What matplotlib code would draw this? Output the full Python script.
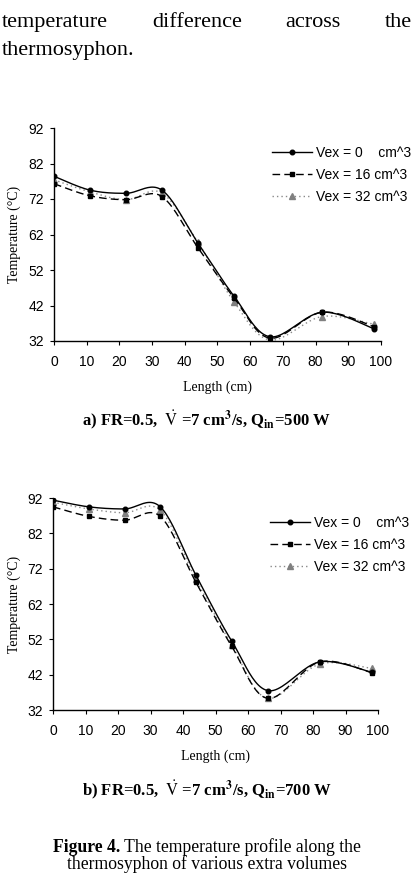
import numpy as np
import matplotlib
matplotlib.use("Agg")
import matplotlib.pyplot as plt

plt.rcParams['font.family'] = ['Liberation Sans', 'DejaVu Sans']
plt.rcParams['mathtext.fontset'] = 'stix'

# positions along the thermosyphon (cm)
length = [0, 11, 22, 33, 44, 55, 66, 82, 98]

# a) Qin = 500 W
temp_a_0 = [78.4, 74.5, 73.6, 74.5, 59.6, 44.7, 33.2, 40.1, 35.4]
temp_a_16 = [76.3, 72.9, 71.8, 72.7, 58.3, 44.2, 32.8, 40.1, 36.0]
temp_a_32 = [77.4, 74.0, 71.8, 73.7, 59.8, 43.1, 32.3, 38.9, 36.7]

# b) Qin = 700 W
temp_b_0 = [91.4, 89.5, 88.9, 89.5, 70.1, 51.5, 37.5, 45.6, 42.7]
temp_b_16 = [89.5, 86.8, 85.7, 86.8, 68.1, 50.0, 35.3, 45.6, 42.6]
temp_b_32 = [90.8, 88.9, 87.8, 88.5, 69.0, 50.4, 35.3, 45.0, 43.8]

labels = ['Vex = 0    cm^3', 'Vex = 16 cm^3', 'Vex = 32 cm^3']
x_ticks = [0, 10, 20, 30, 40, 50, 60, 70, 80, 90, 100]
y_ticks = [32, 42, 52, 62, 72, 82, 92]

W, H = 414, 874
SERIF = 'Liberation Serif'


def fx(px):
    return px / W


def fy(py):
    return 1 - py / H


def smooth(x, y, n=24):
    # excel style smoothed line (bezier through the points)
    p = np.column_stack([x, y]).astype(float)
    out = [p[:1]]
    t = np.linspace(0, 1, n)[1:, None]
    for i in range(len(p) - 1):
        p0 = p[max(i - 1, 0)]
        p1 = p[i]
        p2 = p[i + 1]
        p3 = p[min(i + 2, len(p) - 1)]
        c1 = p1 + (p2 - p0) / 6
        c2 = p2 - (p3 - p1) / 6
        seg = ((1 - t) ** 3) * p1 + 3 * ((1 - t) ** 2) * t * c1 + 3 * (1 - t) * t ** 2 * c2 + t ** 3 * p2
        out.append(seg)
    out = np.vstack(out)
    return out[:, 0], out[:, 1]


styles = [
    dict(color='black', ls='-', marker='o', ms=3.3, mfc='black', mec='black'),
    dict(color='black', ls=(0, (5.5, 3)), marker='s', ms=3.3, mfc='black', mec='black'),
    dict(color='#8a8a8a', ls=(0, (1, 2.2)), marker='^', ms=4.2, mfc='#808080', mec='#808080'),
]


def draw_chart(ax, series):
    for vals, st, lab in reversed(list(zip(series, styles, labels))):
        sx, sy = smooth(length, vals)
        ax.plot(sx, sy, color=st['color'], ls=st['ls'], lw=1.0)
        ax.plot(length, vals, ls='none', marker=st['marker'], ms=st['ms'],
                mfc=st['mfc'], mec=st['mec'])
    handles = []
    for st, lab in zip(styles, labels):
        h, = ax.plot([], [], color=st['color'], ls=st['ls'], lw=1.0,
                     marker=st['marker'], ms=st['ms'], mfc=st['mfc'], mec=st['mec'], label=lab)
        handles.append(h)
    ax.legend(handles=handles, loc='upper left', bbox_to_anchor=(0.668, 0.917),
              frameon=False, borderpad=0, borderaxespad=0, handlelength=2.85,
              handletextpad=0.3, labelspacing=0.6, fontsize=10)
    ax.set_xlim(0, 100)
    ax.set_ylim(32, 92)
    ax.set_xticks(x_ticks)
    ax.set_yticks(y_ticks)
    ax.spines['top'].set_visible(False)
    ax.spines['right'].set_visible(False)
    ax.spines['left'].set_linewidth(1.0)
    ax.spines['bottom'].set_linewidth(1.0)
    ax.tick_params(axis='both', direction='out', length=3, width=0.8, labelsize=10)
    ax.tick_params(axis='x', pad=7)
    ax.tick_params(axis='y', pad=4)
    ax.patch.set_alpha(0)


fig = plt.figure(figsize=(W / 100, H / 100), dpi=100)

ax_a = fig.add_axes([fx(54), fy(341), (381 - 54) / W, (341 - 128) / H])
draw_chart(ax_a, [temp_a_0, temp_a_16, temp_a_32])
ax_b = fig.add_axes([fx(53), fy(710), (378 - 53) / W, (710 - 498) / H])
draw_chart(ax_b, [temp_b_0, temp_b_16, temp_b_32])

# axis titles
for top, bot, xl, xc in [(128, 341, 14.5, 218), (498, 710, 14, 216)]:
    fig.text(fx(xl), fy((top + bot) / 2), 'Temperature (°C)', rotation=90,
             ha='center', va='center', family=SERIF, fontsize=10)
    fig.text(fx(xc), fy(bot + 46), 'Length (cm)', ha='center', va='center',
             family=SERIF, fontsize=10)

# sub captions
fig.text(fx(207), fy(426), r'a) FR=0.5,  $\dot{\mathrm{V}}$ =7 cm$^{\mathbf{3}}$/s, Q$_{\mathbf{in}}$=500 W',
         ha='center', va='baseline', family=SERIF, fontweight='bold', fontsize=12)
fig.text(fx(207), fy(796), r'b) FR=0.5,  $\dot{\mathrm{V}}$ =7 cm$^{\mathbf{3}}$/s, Q$_{\mathbf{in}}$=700 W',
         ha='center', va='baseline', family=SERIF, fontweight='bold', fontsize=12)

renderer = fig.canvas.get_renderer()

# figure caption: bold lead-in followed by regular text, centred as one line
cap_b = fig.text(0, fy(852), 'Figure 4.', ha='left', va='baseline', family=SERIF,
                 fontweight='bold', fontsize=12.7)
cap_r = fig.text(0, fy(852), ' The temperature profile along the', ha='left', va='baseline',
                 family=SERIF, fontsize=12.7)
wb = cap_b.get_window_extent(renderer).width
wr = cap_r.get_window_extent(renderer).width
x0 = 207 - (wb + wr) / 2
cap_b.set_x(fx(x0))
cap_r.set_x(fx(x0 + wb))
fig.text(fx(207), fy(869), 'thermosyphon of various extra volumes',
         ha='center', va='baseline', family=SERIF, fontsize=12.7)

# justified paragraph line at the top
words = ['temperature', 'difference', 'across', 'the']
objs = [fig.text(0, fy(27), w, ha='left', va='baseline', family=SERIF, fontsize=16) for w in words]
widths = [o.get_window_extent(renderer).width for o in objs]
left, right = 2, 412
gap = (right - left - sum(widths)) / (len(words) - 1)
xpos = left
for o, w in zip(objs, widths):
    o.set_x(fx(xpos))
    xpos += w + gap
fig.text(fx(2), fy(55), 'thermosyphon.', ha='left', va='baseline', family=SERIF, fontsize=16)

fig.savefig('out.png', dpi=100)
